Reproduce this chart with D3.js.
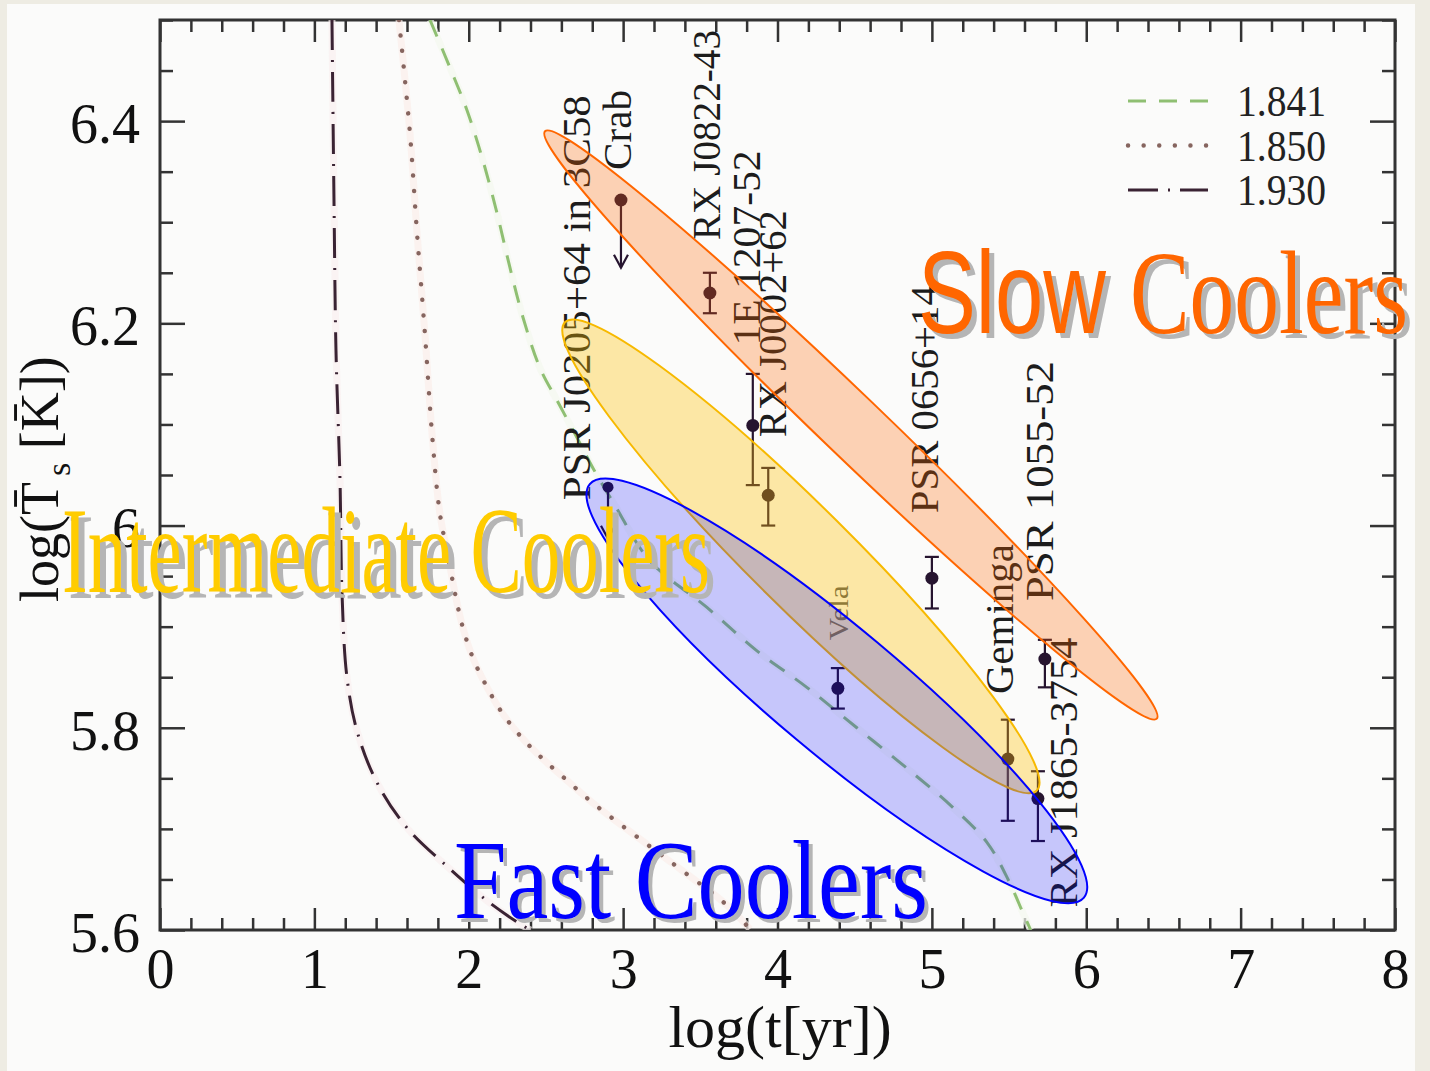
<!DOCTYPE html>
<html>
<head>
<meta charset="utf-8">
<script src="https://cdn.jsdelivr.net/npm/d3@7"></script>
<style>
  html, body { margin: 0; padding: 0; background: #eeece3; }
  svg { display: block; }
</style>
</head>
<body>
<svg id="chart" width="1430" height="1071"></svg>
<script>
// ---- cooling curves: log(t[yr]) vs log(Ts[K]), one per central density ----
const curve1841 = [[1.749,6.500],[1.878,6.453],[1.988,6.411],[2.092,6.361],[2.183,6.309],[2.267,6.255],
  [2.351,6.206],[2.461,6.156],[2.571,6.124],[2.701,6.087],[2.804,6.057],[2.947,6.020],[3.174,5.965],
  [3.543,5.919],[3.867,5.876],[4.190,5.840],[4.514,5.800],[4.838,5.760],[5.130,5.722],[5.360,5.686],
  [5.500,5.648],[5.590,5.617],[5.640,5.600]];
const curve1850 = [[1.548,6.500],[1.619,6.388],[1.665,6.289],[1.716,6.190],[1.762,6.091],[1.813,6.012],
  [1.872,5.965],[1.911,5.933],[1.962,5.899],[2.027,5.869],[2.105,5.844],[2.215,5.815],[2.345,5.790],
  [2.481,5.769],[2.636,5.748],[2.785,5.728],[2.934,5.710],[3.109,5.690],[3.258,5.673],[3.433,5.653],
  [3.582,5.636],[3.711,5.619],[3.821,5.601]];
const curve1930 = [[1.114,6.500],[1.127,6.322],[1.140,6.173],[1.166,6.045],[1.179,5.933],[1.211,5.850],
  [1.276,5.797],[1.405,5.746],[1.600,5.701],[1.859,5.663],[2.118,5.629],[2.332,5.606],[2.400,5.600]];
const curveNames = ["1.841", "1.850", "1.930"];

// ---- observed pulsars ----
const pulsarNames = ["PSR J0205+64 in 3C58","Crab","RX J0822-43","1E 1207-52","RX J0002+62",
  "Vela","PSR 0656+14","Geminga","PSR 1055-52","RX J1865-3754"];
const pulsarLogAge  = [2.902, 2.986, 3.562, 3.840, 3.940, 4.391, 5.000, 5.492, 5.732, 5.687];
const pulsarLogTemp = [6.038, 6.322, 6.230, 6.099, 6.030, 5.839, 5.948, 5.769, 5.868, 5.730];
const pulsarErrHi   = [0, 0, 0.020, 0.051, 0.027, 0.020, 0.021, 0.039, 0.019, 0.027];
const pulsarErrLo   = [0, 0, 0.020, 0.059, 0.030, 0.020, 0.030, 0.061, 0.028, 0.042];
const pulsarLimitTo = [5.987, 6.255, null, null, null, null, null, null, null, null]; // upper limits

// ---- cooler classes: regions spanned by tips in (log t, log T), width relative to length ----
const classNames  = ["Slow Coolers", "Intermediate Coolers", "Fast Coolers"];
const classTipA   = [[2.494,6.390],[2.623,6.201],[2.784,6.041]];
const classTipB   = [[6.457,5.809],[5.680,5.738],[5.985,5.632]];
const classWidth  = [0.073, 0.152, 0.196];

// ---- axis ticks ----
const xMajorTicks = [0,1,2,3,4,5,6,7,8];
const yMajorTicks = [5.6,5.8,6.0,6.2,6.4];

// ---------------------------------------------------------------------------
const svg = d3.select("#chart");
const serif = "'Liberation Serif', 'Times New Roman', serif";
const sans = "'Liberation Sans', Arial, sans-serif";

const x = d3.scaleLinear().domain([0, 8]).range([160, 1395]);
const y = d3.scaleLinear().domain([5.6, 6.5]).range([930, 20]);

// panel
svg.append("rect").attr("x", 7).attr("y", 4).attr("width", 1408).attr("height", 1067).attr("fill", "#fbfbfa");

const xMinor = d3.range(0, 8.0001, 0.2).filter(v => Math.abs(v - Math.round(v)) > 1e-6);
const yMinor = d3.range(5.6, 6.5001, 0.05).filter(v => !yMajorTicks.some(t => Math.abs(t - v) < 1e-6));

const axesG = svg.append("g").attr("class", "axes");
function tickAxis(axisFn, scale, values, size, transform) {
  const g = axesG.append("g").attr("transform", transform)
    .call(axisFn(scale).tickValues(values).tickSize(-size).tickFormat(""));
  g.select(".domain").remove();
  g.selectAll(".tick line").attr("stroke", "#333").attr("stroke-width", 2.5);
}
tickAxis(d3.axisBottom, x, xMajorTicks, 22, `translate(0,${y(5.6)})`);
tickAxis(d3.axisBottom, x, xMinor, 12, `translate(0,${y(5.6)})`);
tickAxis(d3.axisTop, x, xMajorTicks, 22, `translate(0,${y(6.5)})`);
tickAxis(d3.axisTop, x, xMinor, 12, `translate(0,${y(6.5)})`);
tickAxis(d3.axisLeft, y, yMajorTicks, 25, `translate(${x(0)},0)`);
tickAxis(d3.axisLeft, y, yMinor, 13, `translate(${x(0)},0)`);
tickAxis(d3.axisRight, y, yMajorTicks, 25, `translate(${x(8)},0)`);
tickAxis(d3.axisRight, y, yMinor, 13, `translate(${x(8)},0)`);

// tick labels
const xl = axesG.append("g").attr("transform", `translate(0,${y(5.6)})`)
  .call(d3.axisBottom(x).tickValues(xMajorTicks).tickSize(0).tickPadding(18).tickFormat(d3.format("d")));
xl.select(".domain").remove();
xl.selectAll("text").attr("font-family", serif).attr("font-size", 56).attr("fill", "#111");

const yl = axesG.append("g").attr("transform", `translate(${x(0)},0)`)
  .call(d3.axisLeft(y).tickValues(yMajorTicks).tickSize(0).tickPadding(20).tickFormat(d => String(+d.toFixed(1))));
yl.select(".domain").remove();
yl.selectAll("text").attr("font-family", serif).attr("font-size", 56).attr("fill", "#111").attr("dy", "0.38em");

// frame
svg.append("rect").attr("x", x(0)).attr("y", y(6.5)).attr("width", x(8) - x(0)).attr("height", y(5.6) - y(6.5))
  .attr("fill", "none").attr("stroke", "#333").attr("stroke-width", 3);

// axis titles
svg.append("text").attr("x", 780).attr("y", 1047).attr("text-anchor", "middle")
  .attr("font-family", serif).attr("font-size", 60).attr("fill", "#111").text("log(t[yr])");

const yTitle = svg.append("text").attr("transform", "translate(58,602) rotate(-90)")
  .attr("font-family", serif).attr("font-size", 54).attr("fill", "#111");
yTitle.append("tspan").text("log(T\u0304");
yTitle.append("tspan").attr("font-size", 34).attr("dy", 12).attr("dx", 6).text("s");
yTitle.append("tspan").attr("dy", -12).text(" [K\u0304])");

// ---- cooling curves ----
const line = d3.line().x(d => x(d[0])).y(d => y(d[1])).curve(d3.curveCatmullRom.alpha(0.5));
svg.append("clipPath").attr("id", "plotclip").append("rect")
  .attr("x", x(0)).attr("y", y(6.5)).attr("width", x(8) - x(0)).attr("height", y(5.6) - y(6.5));
const curveG = svg.append("g").attr("clip-path", "url(#plotclip)");

const curveStyles = [
  { data: curve1841, color: "#8fbf72", halo: "#f3f8ee", dash: "18,13", width: 3, cap: "butt" },
  { data: curve1850, color: "#86655f", halo: "#fbeee9", dash: "0.1,15.5", width: 4.4, cap: "round" },
  { data: curve1930, color: "#3a2333", halo: "#faeff0", dash: "30,10,2,10", width: 3, cap: "butt" }
];
curveStyles.forEach(s => {
  curveG.append("path").attr("d", line(s.data)).attr("fill", "none")
    .attr("stroke", s.halo).attr("stroke-width", 7).attr("opacity", 0.7);
});
curveStyles.forEach(s => {
  curveG.append("path").attr("d", line(s.data)).attr("fill", "none")
    .attr("stroke", s.color).attr("stroke-width", s.width)
    .attr("stroke-dasharray", s.dash).attr("stroke-linecap", s.cap);
});

// legend
const legend = svg.append("g");
curveStyles.forEach((s, i) => {
  const ly = 101 + i * 44.5;
  legend.append("line").attr("x1", 1128).attr("x2", 1208).attr("y1", ly).attr("y2", ly)
    .attr("stroke", s.color).attr("stroke-width", s.width)
    .attr("stroke-dasharray", s.dash).attr("stroke-linecap", s.cap);
  legend.append("text").attr("x", 1237).attr("y", ly + 15).attr("font-family", serif)
    .attr("font-size", 44).attr("fill", "#222")
    .attr("textLength", 89).attr("lengthAdjust", "spacingAndGlyphs").text(curveNames[i]);
});

// ---- pulsar measurements ----
const ink = "#26142f";
const pts = svg.append("g");
pulsarNames.forEach((name, i) => {
  const px = x(pulsarLogAge[i]), py = y(pulsarLogTemp[i]);
  if (pulsarLimitTo[i] !== null) {
    const ty = y(pulsarLimitTo[i]);
    pts.append("line").attr("x1", px).attr("x2", px).attr("y1", py).attr("y2", ty)
      .attr("stroke", ink).attr("stroke-width", 2.2);
    pts.append("path").attr("d", `M${px - 7},${ty - 13}L${px},${ty}L${px + 7},${ty - 13}`)
      .attr("fill", "none").attr("stroke", ink).attr("stroke-width", 2.2);
  } else {
    const yh = y(pulsarLogTemp[i] + pulsarErrHi[i]), yo = y(pulsarLogTemp[i] - pulsarErrLo[i]);
    pts.append("line").attr("x1", px).attr("x2", px).attr("y1", yh).attr("y2", yo)
      .attr("stroke", ink).attr("stroke-width", 2.2);
    [yh, yo].forEach(cy => pts.append("line").attr("x1", px - 7).attr("x2", px + 7)
      .attr("y1", cy).attr("y2", cy).attr("stroke", ink).attr("stroke-width", 2.2));
  }
  pts.append("circle").attr("cx", px).attr("cy", py).attr("r", i === 0 ? 5.5 : 6.5).attr("fill", ink);
});

// pulsar name labels: offset from each point, rotated
const labelOffsets = [[-18, 13], [10, -30], [10, -53], [7, -80], [18, -58], [10, -48], [6, -65], [5, -65], [8, -58], [39, 109]];
const labelLengths = [405, 80, 210, 195, 227, 55, 228, 150, 240, 270];
pulsarNames.forEach((name, i) => {
  const px = x(pulsarLogAge[i]) + labelOffsets[i][0], py = y(pulsarLogTemp[i]) + labelOffsets[i][1];
  svg.append("text").attr("transform", `translate(${px},${py}) rotate(-90)`)
    .attr("font-family", serif).attr("font-size", name === "Vela" ? 27 : 41)
    .attr("fill", name === "Vela" ? "#555" : "#1c1c1c")
    .attr("textLength", labelLengths[i]).attr("lengthAdjust", "spacingAndGlyphs")
    .text(name);
});

// ---- cooler class regions ----
const regionStyles = [
  { fill: "#ff6600", op: 0.28, stroke: "#ff6600" },
  { fill: "#ffc000", op: 0.34, stroke: "#f7b900" },
  { fill: "#0000ff", op: 0.21, stroke: "#0000ff" }
];
classNames.forEach((c, i) => {
  const ax = x(classTipA[i][0]), ay = y(classTipA[i][1]);
  const bx = x(classTipB[i][0]), by = y(classTipB[i][1]);
  const cx = (ax + bx) / 2, cy = (ay + by) / 2;
  const rx = Math.hypot(bx - ax, by - ay) / 2;
  const ang = Math.atan2(by - ay, bx - ax) * 180 / Math.PI;
  svg.append("ellipse").attr("cx", 0).attr("cy", 0).attr("rx", rx).attr("ry", rx * classWidth[i])
    .attr("transform", `translate(${cx},${cy}) rotate(${ang})`)
    .attr("fill", regionStyles[i].fill).attr("fill-opacity", regionStyles[i].op)
    .attr("stroke", regionStyles[i].stroke).attr("stroke-width", 2);
});

// ---- class titles ----
const titles = [
  { parts: [{ t: "Slow", font: sans, size: 116, x: 918, len: 188 }, { t: "Coolers", font: serif, size: 118, x: 1130, len: 278 }], y: 333, color: "#ff6600", sh: 5 },
  { parts: [{ t: "Intermediate Coolers", font: serif, size: 122, x: 62, len: 648 }], y: 592, color: "#ffcc00", sh: 6 },
  { parts: [{ t: "Fast Coolers", font: serif, size: 113, x: 454, len: 474 }], y: 918, color: "#0000ff", sh: 4 }
];
titles.forEach(tt => {
  [["#b5b5b5", tt.sh], [tt.color, 0]].forEach(([col, off]) => {
    tt.parts.forEach(p => {
      svg.append("text").attr("x", p.x + off).attr("y", tt.y + off)
        .attr("font-family", p.font).attr("font-size", p.size).attr("fill", col)
        .attr("textLength", p.len).attr("lengthAdjust", "spacingAndGlyphs").text(p.t);
    });
  });
});
</script>
</body>
</html>
